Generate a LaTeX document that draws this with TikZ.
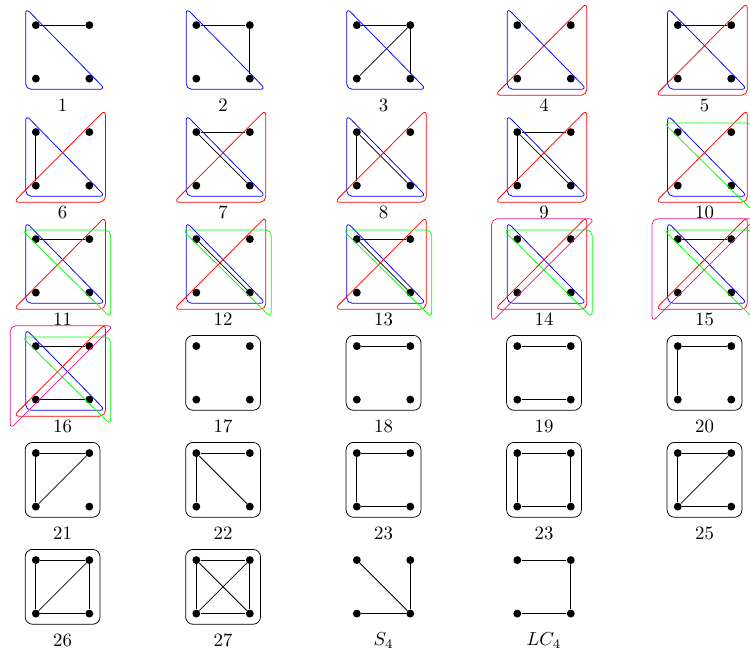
\documentclass[tikz,border=0pt]{standalone}
\usepackage{amsmath}
\usepackage{tikz}
\tikzset{circ/.style = {fill, circle, inner sep = 0, minimum size = 4.2}}
\tikzset{hull/.style = {rounded corners = 3pt}}
\tikzset{hbox/.style = {rounded corners = 4pt}}
\definecolor{mpink}{rgb}{0.92, 0.1, 0.55}

\begin{document}
\begin{tikzpicture}
    \useasboundingbox (-0.67, -10.81) rectangle (13.35, 1.47);

    % vertices and labels
    \foreach \n/\c/\r/\t in {1/0/0/1, 2/1/0/2, 3/2/0/3, 4/3/0/4, 5/4/0/5,
        6/0/1/6, 7/1/1/7, 8/2/1/8, 9/3/1/9, 10/4/1/10,
        11/0/2/11, 12/1/2/12, 13/2/2/13, 14/3/2/14, 15/4/2/15,
        16/0/3/16, 17/1/3/17, 18/2/3/18, 19/3/3/19, 20/4/3/20,
        21/0/4/21, 22/1/4/22, 23/2/4/23, 24/3/4/23, 25/4/4/25,
        26/0/5/26, 27/1/5/27, s/2/5/$S_4$, l/3/5/$LC_4$} {
      \node [circ] (v\n a) at (3*\c, -2*\r + 1) {};
      \node [circ] (v\n b) at (3*\c + 1, -2*\r + 1) {};
      \node [circ] (v\n c) at (3*\c, -2*\r) {};
      \node [circ] (v\n d) at (3*\c + 1, -2*\r) {};
      \node (t\n) at (3*\c + 0.5, -2*\r - 0.5) {\t};
    }

    % edges
    \foreach \n/\u/\v in {1/a/b, 2/a/b, 2/b/d, 3/a/b, 3/b/d, 3/b/c, 5/a/b,
        6/a/c, 7/a/b, 7/a/d, 8/a/c, 8/a/d, 9/a/b, 9/a/c, 9/a/d,
        11/a/b, 12/a/d, 13/a/b, 13/a/d, 15/a/b, 16/a/b, 16/c/d,
        18/a/b, 19/a/b, 19/c/d, 20/a/b, 20/a/c,
        21/a/b, 21/a/c, 21/b/c, 22/a/b, 22/a/c, 22/a/d,
        23/a/b, 23/a/c, 23/c/d, 24/a/b, 24/a/c, 24/c/d, 24/b/d,
        25/a/b, 25/a/c, 25/c/d, 25/b/c,
        26/a/b, 26/a/c, 26/c/d, 26/b/d, 26/b/c,
        27/a/b, 27/a/c, 27/a/d, 27/b/c, 27/b/d, 27/c/d,
        s/a/d, s/b/d, s/c/d, l/a/b, l/b/d, l/c/d}
      \draw (v\n\u) -- (v\n\v);

    % hyperedges
    \foreach \n in {1,...,16} {
      \begin{scope}[shift={(v\n c.center)}]
        \draw [blue, hull] (-0.19, 1.32) -- (-0.19, -0.2) -- (1.3, -0.2) -- cycle;
      \end{scope}
    }
    \foreach \n in {4,...,16} {
      \begin{scope}[shift={(v\n c.center)}]
        \draw [red, hull] (-0.42, -0.31) -- (1.3, -0.31) -- (1.3, 1.42) -- cycle;
      \end{scope}
    }
    \foreach \n in {10,...,16} {
      \begin{scope}[shift={(v\n c.center)}]
        \draw [green, hull] (-0.26, 1.17) -- (1.4, 1.17) -- (1.4, -0.47) -- cycle;
      \end{scope}
    }
    \foreach \n in {14,15,16} {
      \begin{scope}[shift={(v\n c.center)}]
        \draw [mpink, hull] (-0.48, 1.38) -- (1.45, 1.38) -- (-0.48, -0.55) -- cycle;
      \end{scope}
    }
    \foreach \n in {17,...,27} {
      \begin{scope}[shift={(v\n c.center)}]
        \draw [hbox] (-0.2, -0.2) rectangle (1.2, 1.2);
      \end{scope}
    }
  \end{tikzpicture}
\end{document}
